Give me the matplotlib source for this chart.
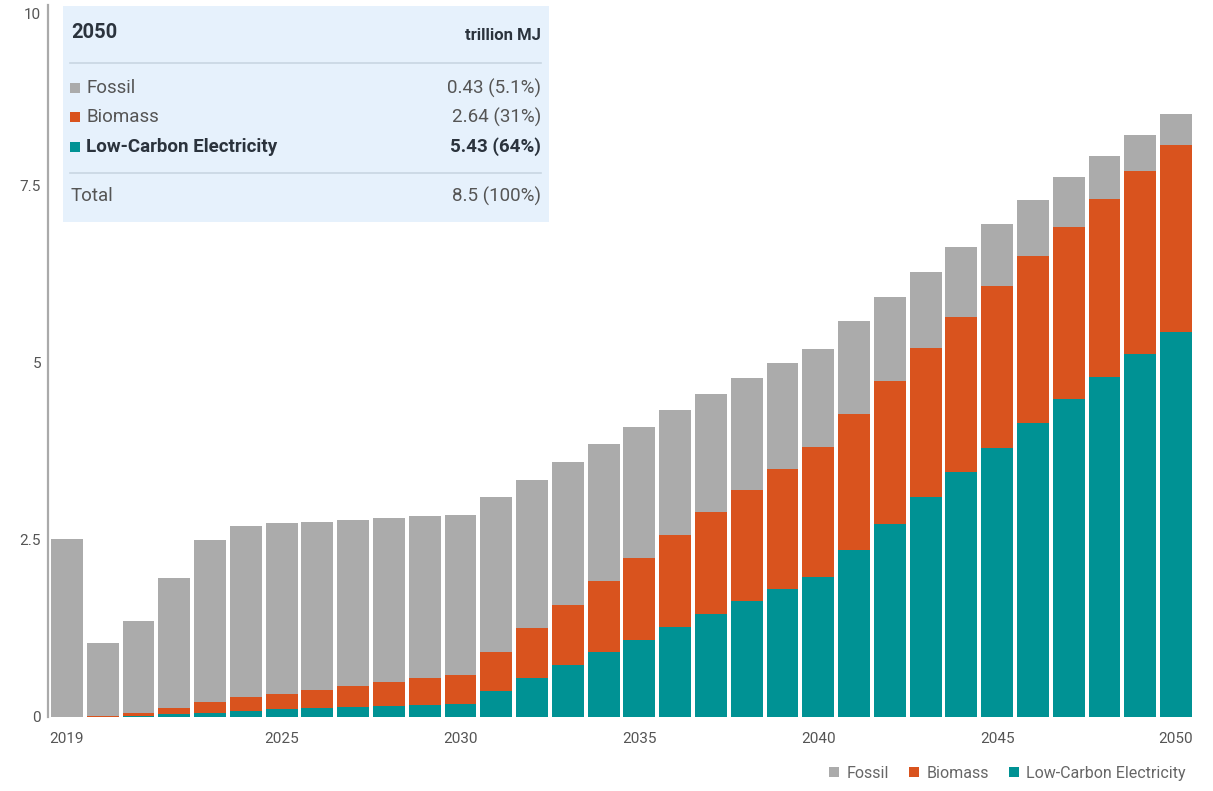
import matplotlib
matplotlib.use("Agg")
import matplotlib.pyplot as plt
from matplotlib.patches import Rectangle
import numpy as np

years = list(range(2019, 2051))

# trillion MJ per year
fossil = [2.51, 1.03, 1.30, 1.84, 2.28, 2.42, 2.40, 2.37, 2.34, 2.31, 2.28, 2.26,
          2.18, 2.09, 2.01, 1.93, 1.85, 1.76, 1.66, 1.58, 1.49, 1.38, 1.30, 1.19,
          1.08, 0.99, 0.88, 0.79, 0.70, 0.61, 0.51, 0.43]
biomass = [0.00, 0.02, 0.04, 0.08, 0.16, 0.20, 0.22, 0.26, 0.30, 0.33, 0.38, 0.40,
           0.55, 0.71, 0.85, 1.01, 1.15, 1.30, 1.44, 1.57, 1.70, 1.84, 1.93, 2.02,
           2.10, 2.19, 2.28, 2.35, 2.43, 2.51, 2.58, 2.64]
electricity = [0.00, 0.00, 0.01, 0.04, 0.05, 0.08, 0.11, 0.12, 0.14, 0.16, 0.17, 0.19,
               0.37, 0.55, 0.73, 0.91, 1.09, 1.27, 1.45, 1.63, 1.80, 1.97, 2.35, 2.72,
               3.10, 3.45, 3.80, 4.15, 4.48, 4.80, 5.12, 5.43]

series = ["Fossil", "Biomass", "Low-Carbon Electricity"]
xticks = [2019, 2025, 2030, 2035, 2040, 2045, 2050]
yticks = [0, 2.5, 5, 7.5, 10]
yticklabels = ["0", "2.5", "5", "7.5", "10"]

c_fossil = "#ababab"
c_bio = "#d9531e"
c_elec = "#009294"

W, H = 1213, 791
fig = plt.figure(figsize=(W / 100, H / 100), dpi=100)
plt.rcParams['font.family'] = ['Roboto', 'DejaVu Sans']

# axes box in pixels: left 48, right 1195, top 4.5, bottom 717
ax = fig.add_axes([48 / W, 1 - 717 / H, (1195 - 48) / W, (717 - 4.5) / H])

x = np.array(years)
e = np.array(electricity)
b = np.array(biomass)
f = np.array(fossil)
ax.bar(x, e, width=0.89, color=c_elec, label=series[2], linewidth=0)
ax.bar(x, b, width=0.89, bottom=e, color=c_bio, label=series[1], linewidth=0)
ax.bar(x, f, width=0.89, bottom=e + b, color=c_fossil, label=series[0], linewidth=0)

ax.set_xlim(2018.47, 2050.53)
ax.set_ylim(0, 10.05)
ax.set_xticks(xticks)
ax.set_xticklabels([str(t) for t in xticks])
ax.set_yticks(yticks)
ax.set_yticklabels(yticklabels)
ax.tick_params(axis='both', length=0, labelsize=11, colors="#555555")
ax.tick_params(axis='x', pad=11)
ax.tick_params(axis='y', pad=5)
ax.get_yticklabels()[-1].set_va('top')

for s in ["top", "right", "bottom"]:
    ax.spines[s].set_visible(False)
ax.spines["left"].set_color("#aaaaaa")
ax.spines["left"].set_linewidth(1.6)

# bottom legend
handles, labels = ax.get_legend_handles_labels()
leg = fig.legend(handles[::-1], labels[::-1], ncol=3, loc='lower right',
                 bbox_to_anchor=(1197 / W, 1 - 792 / H), frameon=False,
                 fontsize=11.5, handlelength=0.6, handleheight=0.6,
                 handletextpad=0.45, columnspacing=1.3, borderaxespad=0.3)
for t in leg.get_texts():
    t.set_color("#666666")


def fx(px):
    return px / W


def fy(py):
    return 1 - py / H


# summary box for the final year
fig.add_artist(Rectangle((fx(63), fy(222)), (549 - 63) / W, (222 - 6) / H,
                         transform=fig.transFigure, facecolor="#e6f1fc",
                         edgecolor="none", zorder=5))
fig.text(fx(71), fy(33), str(years[-1]), fontsize=14.5, fontweight='bold',
         color="#2b333d", va='center', ha='left', zorder=6)
fig.text(fx(541), fy(35), "trillion MJ", fontsize=12, fontweight='bold',
         color="#2b333d", va='center', ha='right', zorder=6)
for ly in [63, 173]:
    fig.add_artist(plt.Line2D([fx(70), fx(541)], [fy(ly), fy(ly)],
                              transform=fig.transFigure, color="#c9d6e2",
                              linewidth=1.2, zorder=6))

total = fossil[-1] + biomass[-1] + electricity[-1]
rows = [(series[0], fossil[-1], c_fossil, 88, False),
        (series[1], biomass[-1], c_bio, 117, False),
        (series[2], electricity[-1], c_elec, 147, True)]
for name, val, col, ry, bold in rows:
    fig.add_artist(Rectangle((fx(70), fy(ry + 5)), 10 / W, 10 / H,
                             transform=fig.transFigure, facecolor=col,
                             edgecolor="none", zorder=6))
    wt = 'bold' if bold else 'normal'
    tc = "#2b333d" if bold else "#555555"
    fig.text(fx(86), fy(ry), name, fontsize=13.5, fontweight=wt, color=tc,
             va='center', ha='left', zorder=6)
    fig.text(fx(541), fy(ry), f"{val:.2f} ({val / total * 100:.2g}%)",
             fontsize=13.5, fontweight=wt, color=tc, va='center', ha='right',
             zorder=6)
fig.text(fx(71), fy(196), "Total", fontsize=13.5, color="#555555",
         va='center', ha='left', zorder=6)
fig.text(fx(541), fy(196), f"{total:.2g} (100%)", fontsize=13.5,
         color="#555555", va='center', ha='right', zorder=6)

fig.savefig("out.png", dpi=100)
